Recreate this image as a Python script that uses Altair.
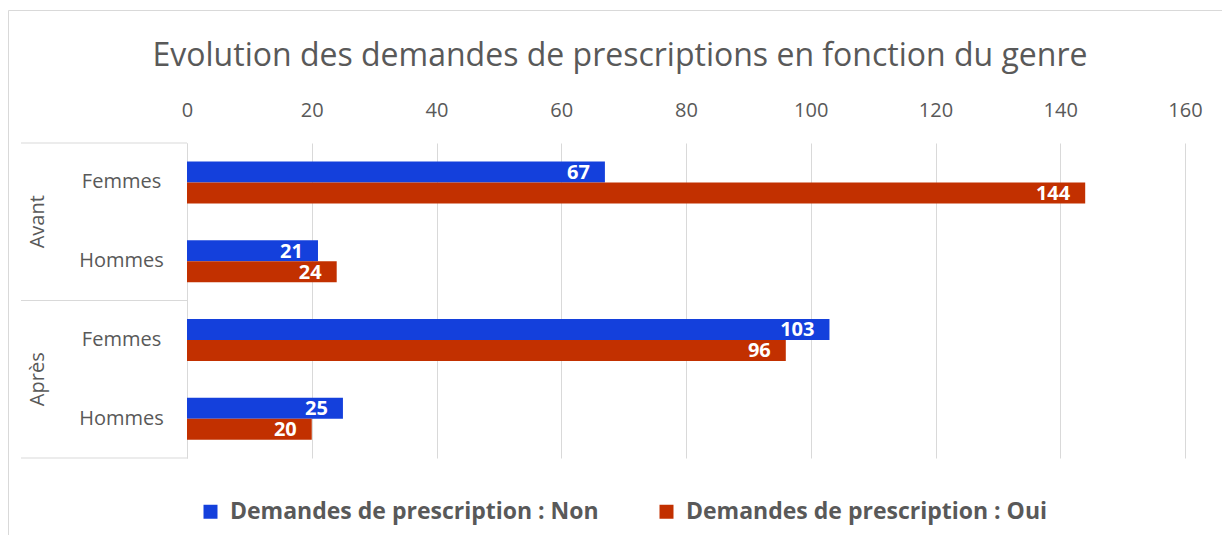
import altair as alt
import pandas as pd

periods = ["Avant", "Avant", "Après", "Après"]
genres = ["Femmes", "Hommes", "Femmes", "Hommes"]
non_vals = [67, 21, 103, 25]
oui_vals = [144, 24, 96, 20]
series = ["Demandes de prescription : Non", "Demandes de prescription : Oui"]
colors = ["#1440DC", "#C23000"]
x_ticks = [0, 20, 40, 60, 80, 100, 120, 140, 160]
title_text = "Evolution des demandes de prescriptions en fonction du genre"

keys = [p + "|" + g for p, g in zip(periods, genres)]
rows = []
for k, p, g, n, o in zip(keys, periods, genres, non_vals, oui_vals):
    rows.append({"key": k, "period": p, "genre": g, "serie": series[0], "value": n})
    rows.append({"key": k, "period": p, "genre": g, "serie": series[1], "value": o})
df = pd.DataFrame(rows)

grp = pd.DataFrame({
    "key": [keys[0], keys[2]],
    "anchor": [keys[1], keys[3]],
    "period": ["Avant", "Après"],
})
bottom = pd.DataFrame({"key": [keys[3]], "title": [title_text]})

FONT = "Open Sans"
GRAY = "#595959"
LINE = "#d9d9d9"
W, H = 998, 315

yscale = alt.Scale(domain=keys, paddingInner=0, paddingOuter=0)
yoff_scale = alt.Scale(domain=series, paddingInner=0, paddingOuter=0.875)

base = alt.Chart(df)

bars = base.mark_bar().encode(
    x=alt.X("value:Q", scale=alt.Scale(domain=[0, 160]),
            axis=alt.Axis(orient="top", values=x_ticks, title=None, ticks=False,
                          domain=False, grid=True, gridColor=LINE, gridWidth=1,
                          labelFont=FONT, labelFontSize=20, labelColor=GRAY,
                          labelFlush=False, labelPadding=23)),
    y=alt.Y("key:N", scale=yscale, sort=keys,
            axis=alt.Axis(title=None, ticks=False, domain=True, domainColor=LINE,
                          labelExpr="split(datum.value, '|')[1]",
                          labelFont=FONT, labelFontSize=20, labelColor=GRAY,
                          labelAlign="center", labelPadding=66)),
    yOffset=alt.YOffset("serie:N", scale=yoff_scale, sort=series),
    color=alt.Color("serie:N", scale=alt.Scale(domain=series, range=colors),
                    legend=alt.Legend(title=None, orient="none", direction="horizontal",
                                      legendX=12, legendY=357,
                                      symbolType="square", symbolSize=196,
                                      symbolStrokeWidth=0, labelFont=FONT,
                                      labelFontSize=23, labelFontWeight="bold",
                                      labelColor=GRAY, labelOffset=8, labelLimit=600,
                                      columnPadding=56, padding=0)),
)

labels = base.mark_text(align="right", baseline="middle", dx=-15, dy=1,
                        font=FONT, fontSize=20, fontWeight="bold",
                        color="white").encode(
    x="value:Q",
    y=alt.Y("key:N", scale=yscale, sort=keys),
    yOffset=alt.YOffset("serie:N", scale=yoff_scale, sort=series),
    text="value:Q",
)

group_text = alt.Chart(grp).mark_text(angle=270, align="center", baseline="middle",
                                      font=FONT, fontSize=20, color=GRAY).encode(
    x=alt.value(-149),
    y=alt.Y("anchor:N", scale=yscale, sort=keys, bandPosition=0),
    text="period:N",
)

sep_top = alt.Chart(grp).mark_rule(color=LINE, strokeWidth=1).encode(
    x=alt.value(-166), x2=alt.value(0),
    y=alt.Y("key:N", scale=yscale, sort=keys, bandPosition=0),
)
sep_bottom = alt.Chart(bottom).mark_rule(color=LINE, strokeWidth=1).encode(
    x=alt.value(-166), x2=alt.value(0),
    y=alt.Y("key:N", scale=yscale, sort=keys, bandPosition=1),
)

frame = alt.Chart(bottom).mark_rect(fill="transparent", stroke=LINE, strokeWidth=1).encode(
    x=alt.value(-178.5), x2=alt.value(1400),
    y=alt.value(-132.5), y2=alt.value(700),
)

title = alt.Chart(bottom).mark_text(align="center", baseline="middle", font=FONT,
                                    fontSize=32, color=GRAY).encode(
    x=alt.value(433), y=alt.value(-87), text="title:N",
)

chart = alt.layer(frame, bars, labels, sep_top, sep_bottom, group_text, title).properties(
    width=W, height=H,
    autosize=alt.AutoSizeParams(type="none"),
    padding={"left": 179, "top": 135, "right": 37, "bottom": 77},
).configure_view(stroke=None)

chart.save("out.html", embed_options={"renderer": "svg", "actions": False})
